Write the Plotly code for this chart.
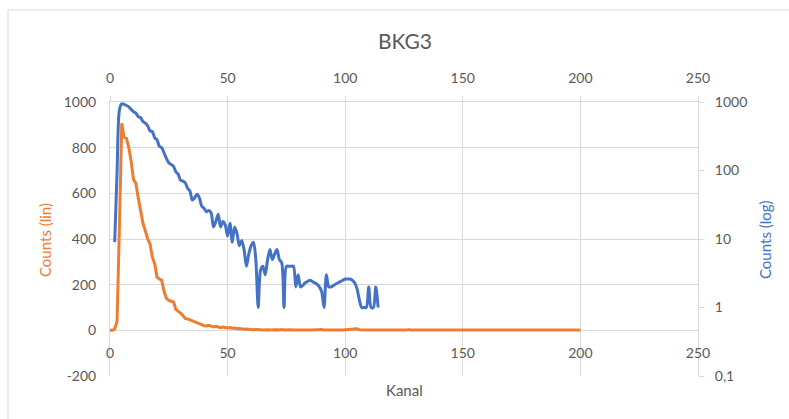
import plotly.graph_objects as go

# Linear-scale spectrum (left / bottom axes): channel 0..200
kanal_lin = list(range(0, 201))
counts_lin = [
    0, 0, 5, 40, 450, 907, 846, 840, 800, 740,
    660, 645, 580, 520, 470, 437, 400, 379, 321, 292,
    233, 225, 219, 170, 140, 131, 128, 124, 92, 85,
    75, 65, 52, 50, 46, 44, 40, 35, 29, 25,
    20, 19, 22, 18, 15, 18, 14, 12, 14, 12,
    10, 12, 9, 10, 7, 8, 6, 5, 6, 4,
    5, 3, 4, 2,
    3, 2, 4, 3, 2, 3, 5, 3, 2, 4, 2, 3, 2, 3, 2, 1,
    2, 1, 2, 3, 1, 2, 1, 2, 3, 2, 4, 2, 1, 2, 1, 2, 3, 1, 2, 1,
    2, 1, 2, 3, 5, 7, 3, 2, 1, 2, 1, 2, 1, 1, 2, 1, 2, 1, 1, 2,
    1, 2, 1, 1, 2, 1, 1, 3, 1, 2, 1, 1, 2, 1, 1, 2, 1, 1, 2, 1,
    1, 2, 1, 1, 1, 2, 1, 1, 2, 1, 1, 1, 2, 1, 1, 2, 1, 1, 1, 2,
    1, 1, 2, 1, 1, 1, 2, 1, 1, 1, 2, 1, 1, 1, 2, 1, 1, 1, 1, 2,
    1, 1, 1, 2, 1, 1, 1, 1, 2, 1, 1, 1, 1, 2, 1, 1, 1, 2, 1, 1, 1,
]

# Log-scale spectrum (right / top axes): channel 2..114
kanal_log = list(range(2, 115))
counts_log = [
    9, 95, 760, 940, 925, 890, 850, 780,
    720, 690, 610, 590, 520, 490, 450, 380, 370, 300,
    280, 225, 215, 180, 150, 130, 122, 115, 96, 88,
    72, 70, 66, 55, 50, 37, 40, 45, 40, 30,
    28, 25, 26, 24, 15, 18, 23, 15, 18, 16,
    11, 17, 9, 15, 12, 8, 9.5, 7, 4, 6,
    8, 9, 5, 1, 3.5, 4, 3, 5, 7, 5,
    6, 7, 5, 4.5, 1, 4, 4, 4, 4, 2,
    3, 2, 2.1, 2.3, 2.4, 2.5, 2.4, 2.3, 2.2, 2,
    1.7, 1, 3, 2, 2, 2.1, 2.2, 2.3, 2.4, 2.5,
    2.6, 2.6, 2.6, 2.5, 2.3, 1.9, 1.3, 1, 1, 1,
    2, 1, 1, 2, 1,
]

x_ticks = [0, 50, 100, 150, 200, 250]
lin_ticks = [-200, 0, 200, 400, 600, 800, 1000]
lin_labels = ["-200", "0", "200", "400", "600", "800", "1000"]
log_ticks = [0.1, 1, 10, 100, 1000]
log_labels = ["0,1", "1", "10", "100", "1000"]

ORANGE = "#ED7D31"
BLUE = "#4472C4"
GRID = "#D9D9D9"
TEXT = "#595959"
FONT = "Lato"

W, H = 789, 419
L, R, T, B = 110, 91, 102, 43
pw, ph = W - L - R, H - T - B


def px_x(p):
    return (p - L) / pw


def px_y(p):
    return (H - B - p) / ph


fig = go.Figure()

fig.add_trace(go.Scatter(
    x=kanal_lin, y=counts_lin, mode="lines",
    line=dict(color=ORANGE, width=3),
    xaxis="x", yaxis="y", name="lin",
))
fig.add_trace(go.Scatter(
    x=kanal_log, y=counts_log, mode="lines",
    line=dict(color=BLUE, width=3, shape="spline", smoothing=0.8),
    xaxis="x2", yaxis="y2", name="log",
))

axis_font = dict(family=FONT, size=14, color=TEXT)

fig.update_layout(
    width=W, height=H,
    margin=dict(l=L, r=R, t=T, b=B, autoexpand=False),
    paper_bgcolor="white", plot_bgcolor="white",
    showlegend=False,
    font=dict(family=FONT, color=TEXT),
    title=dict(text="BKG3", x=px_x(405), xref="paper", xanchor="center",
               y=1 - 42 / H, yref="container", yanchor="middle",
               font=dict(family=FONT, size=21, color=TEXT)),
    xaxis=dict(
        range=[0, 250], tickvals=x_ticks, showgrid=True, gridcolor=GRID,
        gridwidth=1, zeroline=False, showline=False,
        anchor="free", position=px_y(330),
        ticks="outside", ticklen=10, tickcolor="rgba(0,0,0,0)",
        tickfont=axis_font,
    ),
    xaxis2=dict(
        range=[0, 250], tickvals=x_ticks, overlaying="x", side="top",
        anchor="y", showgrid=False, zeroline=False, showline=True,
        linecolor=GRID, ticks="outside", ticklen=5, tickcolor=GRID,
        ticklabelstandoff=7, tickfont=axis_font,
    ),
    yaxis=dict(
        range=[-200, 1000], tickvals=lin_ticks, ticktext=lin_labels,
        showgrid=True, gridcolor=GRID,
        gridwidth=1, zeroline=True, zerolinecolor=GRID, zerolinewidth=1,
        showline=True, linecolor=GRID,
        ticks="outside", ticklen=10, tickcolor="rgba(0,0,0,0)",
        tickfont=axis_font,
    ),
    yaxis2=dict(
        type="log", range=[-1, 3], tickvals=log_ticks, ticktext=log_labels,
        overlaying="y", side="right", anchor="x", showgrid=False,
        zeroline=False, showline=True, linecolor=GRID,
        ticks="outside", ticklen=5, tickcolor=GRID, ticklabelstandoff=8,
        tickfont=axis_font,
    ),
)

fig.add_annotation(text="Kanal", x=px_x(405), y=px_y(390), xref="paper",
                   yref="paper", showarrow=False,
                   xanchor="center", yanchor="middle",
                   font=dict(family=FONT, size=15, color=TEXT))
fig.add_annotation(text="Counts (lin)", x=px_x(45), y=px_y(240), xref="paper",
                   yref="paper", showarrow=False, textangle=-90,
                   xanchor="center", yanchor="middle",
                   font=dict(family=FONT, size=15, color=ORANGE))
fig.add_annotation(text="Counts (log)", x=px_x(765), y=px_y(240), xref="paper",
                   yref="paper", showarrow=False, textangle=-90,
                   xanchor="center", yanchor="middle",
                   font=dict(family=FONT, size=15, color=BLUE))

# chart-area frame
fig.add_shape(type="rect", xref="paper", yref="paper",
              x0=px_x(8), x1=px_x(810), y0=px_y(440), y1=px_y(10),
              line=dict(color=GRID, width=1), fillcolor="rgba(0,0,0,0)",
              layer="below")

fig.write_html("out.html")
